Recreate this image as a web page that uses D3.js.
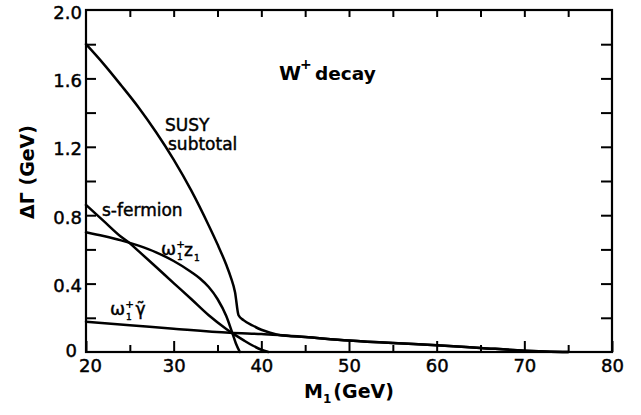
<!DOCTYPE html>
<html><head><meta charset="utf-8">
<script src="https://cdn.jsdelivr.net/npm/d3@7"></script>
<style>
body{margin:0;background:#fff}
svg{display:block;background:#fff}
text{font-family:"DejaVu Sans",sans-serif;fill:#000}
.med{stroke:#000;stroke-width:0.45px}
</style>
</head><body>
<svg id="chart" width="641" height="415"></svg>
<script>
// ---- data ----
const xMajorTicks = [20, 30, 40, 50, 60, 70, 80];
const xMinorTicks = [25, 35, 45, 55, 65, 75];
const yLabelTicks = [0, 0.4, 0.8, 1.2, 1.6, 2.0];
const yAllTicks = [0.2, 0.4, 0.6, 0.8, 1.0, 1.2, 1.4, 1.6, 1.8];

// SUSY subtotal
const susyM = [20, 22, 24, 26, 28, 30, 32, 34, 35, 36, 36.5, 37, 37.4, 38, 39, 40, 41, 42, 45, 50, 55, 60, 65, 70, 73, 75];
const susyG = [1.80, 1.685, 1.56, 1.43, 1.285, 1.125, 0.945, 0.74, 0.63, 0.51, 0.44, 0.35, 0.215, 0.185, 0.155, 0.13, 0.113, 0.10, 0.088, 0.067, 0.052, 0.040, 0.024, 0.008, 0.002, 0];
// s-fermion
const sferM = [20, 22, 24, 25, 26, 28, 30, 32, 34, 36, 37, 38, 39, 40, 40.8];
const sferG = [0.86, 0.767, 0.674, 0.636, 0.59, 0.497, 0.403, 0.31, 0.215, 0.135, 0.10, 0.068, 0.038, 0.013, 0];
// omega1+ z1
const wzM = [20, 22, 24, 26, 28, 30, 32, 33, 34, 35, 36, 36.6, 37.1, 37.55];
const wzG = [0.70, 0.678, 0.653, 0.622, 0.583, 0.532, 0.468, 0.43, 0.38, 0.31, 0.21, 0.125, 0.05, 0];
// omega1+ photino
const wgM = [20, 25, 30, 36.4, 40, 42, 45, 50, 55, 60, 65, 70, 73, 75];
const wgG = [0.177, 0.157, 0.136, 0.112, 0.105, 0.10, 0.088, 0.067, 0.052, 0.040, 0.024, 0.008, 0.002, 0];

const series = [
  {name: "SUSY subtotal", m: susyM, g: susyG},
  {name: "s-fermion", m: sferM, g: sferG},
  {name: "w1+z1", m: wzM, g: wzG},
  {name: "w1+photino", m: wgM, g: wgG}
];

// ---- chart ----
const svg = d3.select("#chart");
const L = 86, R = 612, T = 10, B = 352;
const x = d3.scaleLinear().domain([20, 80]).range([L, R]);
const y = d3.scaleLinear().domain([0, 2]).range([B, T]);

const axisStyle = g => {
  g.select(".domain").remove();
  g.selectAll(".tick line").attr("stroke", "#000").attr("stroke-width", 2);
};

// bottom: major ticks with labels
svg.append("g").attr("transform", `translate(0,${B})`)
  .call(d3.axisBottom(x).tickValues(xMajorTicks).tickSize(-11).tickPadding(7).tickFormat(d3.format("d")))
  .call(axisStyle)
  .call(g => g.selectAll("text").attr("class", "med").attr("font-size", 18).attr("font-family", "DejaVu Sans")
    .attr("dx", d => d === 20 ? 4 : 0));
// bottom: minor ticks
svg.append("g").attr("transform", `translate(0,${B})`)
  .call(d3.axisBottom(x).tickValues(xMinorTicks).tickSize(-7).tickFormat(""))
  .call(axisStyle);
// top ticks
svg.append("g").attr("transform", `translate(0,${T})`)
  .call(d3.axisTop(x).tickValues(xMinorTicks.concat(xMajorTicks.slice(1, -1))).tickSize(-7).tickFormat(""))
  .call(axisStyle);
// left ticks
svg.append("g").attr("transform", `translate(${L},0)`)
  .call(d3.axisLeft(y).tickValues(yAllTicks).tickSize(-10).tickFormat(""))
  .call(axisStyle);
// left labels
svg.append("g").attr("transform", `translate(${L},0)`)
  .call(d3.axisLeft(y).tickValues(yLabelTicks).tickSize(0).tickPadding(4)
    .tickFormat(d => d === 0 ? "0" : d3.format(".1f")(d)))
  .call(axisStyle)
  .call(g => g.selectAll("text").attr("class", "med").attr("font-size", 18).attr("font-family", "DejaVu Sans")
    .attr("x", d => d === 0 ? -9 : -4)
    .attr("dy", d => d === 0 ? "0.25em" : "0.45em"));
// right ticks
svg.append("g").attr("transform", `translate(${R},0)`)
  .call(d3.axisRight(y).tickValues(yAllTicks).tickSize(-11).tickFormat(""))
  .call(axisStyle);

// frame
svg.append("rect").attr("x", L).attr("y", T).attr("width", R - L).attr("height", B - T)
  .attr("fill", "none").attr("stroke", "#000").attr("stroke-width", 2.2);

// curves
const line = d3.line().x(d => x(d[0])).y(d => y(d[1])).curve(d3.curveMonotoneX);
svg.append("g").selectAll("path").data(series).join("path")
  .attr("d", s => line(s.m.map((m, i) => [m, s.g[i]])))
  .attr("fill", "none").attr("stroke", "#000").attr("stroke-width", 2.5)
  .attr("stroke-linejoin", "round").attr("stroke-linecap", "round");

// annotations
const ann = svg.append("g");
ann.append("text").attr("x", 279).attr("y", 80).attr("font-size", 20).attr("font-weight", "bold").text("W");
ann.append("text").attr("x", 300).attr("y", 69).attr("font-size", 14).attr("font-weight", "bold").text("+");
ann.append("text").attr("x", 315).attr("y", 80).attr("font-size", 18.5).attr("font-weight", "bold").text("decay");

ann.append("text").attr("class", "med").attr("x", 165).attr("y", 131).attr("font-size", 17).text("SUSY");
ann.append("text").attr("class", "med").attr("x", 168).attr("y", 150).attr("font-size", 17).text("subtotal");

ann.append("text").attr("class", "med").attr("x", 102).attr("y", 216).attr("font-size", 17).text("s-fermion");

// omega label helper: omega with stacked + and 1
function omegaLabel(x0, yb) {
  const w = ann.append("text").attr("class", "med").attr("x", x0).attr("y", yb).attr("font-size", 18).text("ω");
  const wl = w.node().getComputedTextLength();
  const xs = x0 + wl;
  ann.append("text").attr("x", xs).attr("y", yb - 7).attr("font-size", 11).attr("font-weight", "bold").text("+");
  ann.append("text").attr("class", "med").attr("x", xs + 1).attr("y", yb + 5).attr("font-size", 9).text("1");
  return xs + 8;
}
// omega1+ z1
const zx = omegaLabel(161, 255);
const zt = ann.append("text").attr("class", "med").attr("x", zx).attr("y", 256).attr("font-size", 17).text("z");
ann.append("text").attr("class", "med").attr("x", zx + zt.node().getComputedTextLength() + 1).attr("y", 261).attr("font-size", 9).text("1");

// omega1+ photino (gamma with combining tilde)
const gx = omegaLabel(110, 315);
ann.append("text").attr("class", "med").attr("x", gx + 2.5).attr("y", 315).attr("font-size", 17).text("γ\u0303");

// axis titles
ann.append("text").attr("x", 349).attr("y", 398).attr("text-anchor", "middle")
  .attr("font-size", 19).attr("font-weight", "bold")
  .call(t => {
    t.append("tspan").text("M");
    t.append("tspan").attr("font-size", 12).attr("dy", 5).text("1");
    t.append("tspan").attr("dy", -5).attr("dx", 2).text("(GeV)");
  });
ann.append("text").attr("transform", "translate(34,172) rotate(-90)").attr("text-anchor", "middle")
  .attr("font-size", 19).attr("font-weight", "bold").text("ΔΓ (GeV)");
</script>
</body></html>
